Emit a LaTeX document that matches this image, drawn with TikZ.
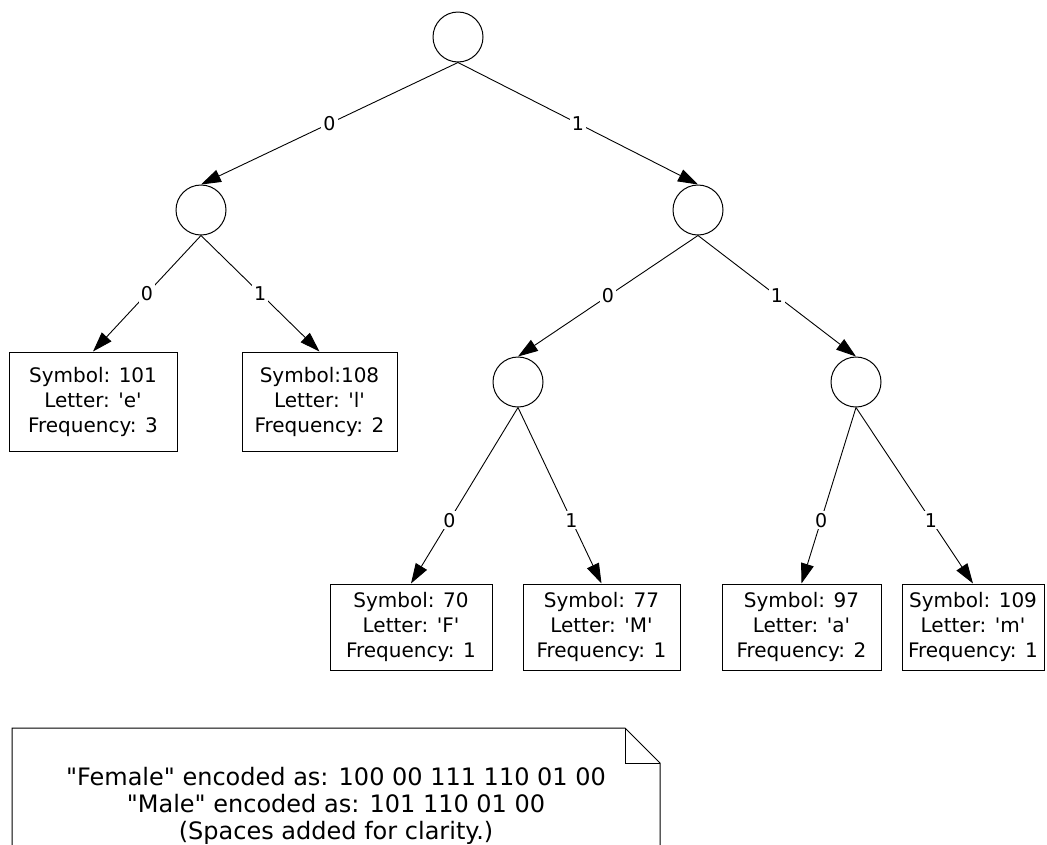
\documentclass[tikz,border=0pt]{standalone}
\usepackage{fontspec}
\setmainfont{DejaVu Sans}
\usetikzlibrary{arrows.meta}
\newcommand{\sq}{\textquotesingle}
\newcommand{\dq}{\textquotedbl}
\tikzset{
  tnode/.style={circle,draw,line width=1pt,minimum size=50pt,inner sep=0pt},
  leaf/.style={rectangle,draw,line width=1pt,inner sep=0pt,align=center,
    font=\fontsize{20}{25}\selectfont},
  conn/.style={line width=0.9pt,-{Triangle[length=20pt,width=13pt]}},
  lbl/.style={fill=white,inner sep=2pt,font=\fontsize{19}{22}\selectfont},
}
\begin{document}
\begin{tikzpicture}[x=1pt,y=-1pt]
\useasboundingbox (0,0) rectangle (1047,844);
\clip (0,0) rectangle (1047,844);
% tree nodes
\node[tnode] (root) at (458,37) {};
\node[tnode] (L) at (201,210) {};
\node[tnode] (R) at (698,210) {};
\node[tnode] (RL) at (518,382) {};
\node[tnode] (RR) at (856,382) {};
% leaves
\node[leaf,minimum width=168pt,minimum height=99pt] (e) at (93,401.5) {Symbol: 101\\Letter: \sq e\sq\\Frequency: 3};
\node[leaf,minimum width=155pt,minimum height=99pt] (l) at (319.5,401.5) {Symbol:108\\Letter: \sq l\sq\\Frequency: 2};
\node[leaf,minimum width=162pt,minimum height=86pt] (F) at (411,627) {Symbol: 70\\Letter: \sq F\sq\\Frequency: 1};
\node[leaf,minimum width=157pt,minimum height=86pt] (M) at (601.5,627) {Symbol: 77\\Letter: \sq M\sq\\Frequency: 1};
\node[leaf,minimum width=159pt,minimum height=86pt] (a) at (801.5,627) {Symbol: 97\\Letter: \sq a\sq\\Frequency: 2};
\node[leaf,minimum width=142pt,minimum height=86pt] (m) at (973,627) {Symbol: 109\\Letter: \sq m\sq\\Frequency: 1};
% connectors
\draw[conn] (root.south) -- node[lbl] {0} (L.north);
\draw[conn] (root.south) -- node[lbl] {1} (R.north);
\draw[conn] (L.south) -- node[lbl] {0} (e.north);
\draw[conn] (L.south) -- node[lbl] {1} (l.north);
\draw[conn] (R.south) -- node[lbl] {0} (RL.north);
\draw[conn] (R.south) -- node[lbl] {1} (RR.north);
\draw[conn] (RL.south) -- node[lbl,pos=0.64] {0} (F.north);
\draw[conn] (RL.south) -- node[lbl,pos=0.64] {1} (M.north);
\draw[conn] (RR.south) -- node[lbl,pos=0.64] {0} (a.north);
\draw[conn] (RR.south) -- node[lbl,pos=0.64] {1} (m.north);
% note
\coordinate (n1) at (12,728);
\coordinate (n2) at (625,728);
\coordinate (n3) at (660,763);
\coordinate (n4) at (660,880);
\coordinate (n5) at (12,880);
\draw[line width=1pt] (n1) -- (n2) -- (n3) -- (n4) -- (n5) -- cycle;
\draw[line width=1pt] (n2) -- (n2 |- n3) -- (n3);
\node[align=center,inner sep=0pt,font=\fontsize{24}{27}\selectfont] (note) at (336,806)
  {\dq Female\dq{} encoded as: 100 00 111 110 01 00\\\dq Male\dq{} encoded as: 101 110 01 00\\(Spaces added for clarity.)};
\end{tikzpicture}
\end{document}
